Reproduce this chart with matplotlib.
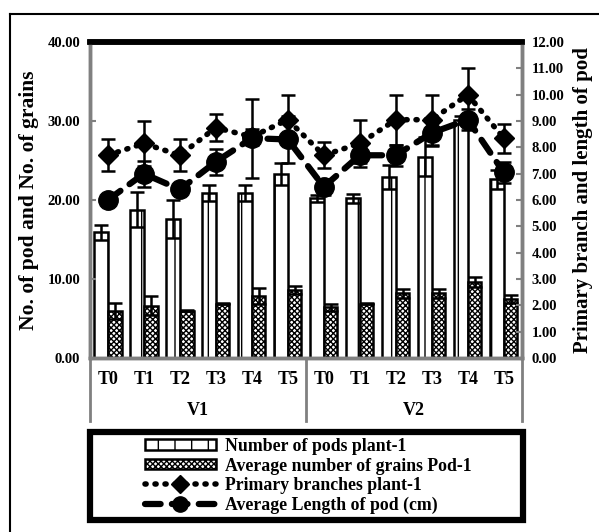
import numpy as np
import matplotlib
matplotlib.use("Agg")
import matplotlib.pyplot as plt
from matplotlib.lines import Line2D
from matplotlib.patches import Rectangle

plt.rcParams["font.family"] = ["Liberation Serif", "DejaVu Serif"]
plt.rcParams["font.weight"] = "bold"
plt.rcParams["hatch.linewidth"] = 1.0

treat = ["T0", "T1", "T2", "T3", "T4", "T5"]
groups = ["V1", "V2"]
cats = treat * 2

pods = [15.9, 18.8, 17.6, 20.9, 20.9, 23.3, 20.2, 20.2, 22.9, 25.5, 30.1, 22.6]
pods_err = [1.0, 2.2, 2.4, 1.0, 1.0, 1.4, 0.4, 0.6, 1.5, 2.5, 0.5, 1.2]
grains = [6.0, 6.6, 6.0, 6.9, 7.9, 8.6, 6.4, 6.9, 8.2, 8.2, 9.6, 7.5]
grains_err = [1.0, 1.2, 0.1, 0.1, 1.0, 0.5, 0.5, 0.1, 0.6, 0.6, 0.6, 0.5]
branches = [7.7, 8.15, 7.7, 8.75, 8.4, 9.05, 7.7, 8.15, 9.05, 9.05, 10.0, 8.35]
branches_err = [0.6, 0.85, 0.6, 0.5, 0.3, 0.95, 0.5, 0.9, 0.95, 0.95, 1.0, 0.55]
length = [6.0, 7.0, 6.4, 7.45, 8.35, 8.3, 6.5, 7.7, 7.7, 8.55, 9.05, 7.05]
length_err = [0.2, 0.5, 0.2, 0.5, 1.5, 0.9, 0.3, 0.3, 0.4, 0.5, 0.4, 0.4]

x = np.arange(len(cats))
w = 0.38

fig = plt.figure(figsize=(5.99, 5.32), dpi=100)
ax = fig.add_axes([0.150, 0.327, 0.721, 0.594])
ax2 = ax.twinx()

ekw = dict(ecolor="black", elinewidth=1.8, capsize=5, capthick=1.8)
b1 = ax.bar(x - w / 2, pods, w, yerr=pods_err, color="white", edgecolor="black",
            linewidth=1.8, hatch="|", error_kw=ekw)
b2 = ax.bar(x + w / 2, grains, w, yerr=grains_err, color="white", edgecolor="black",
            linewidth=1.8, hatch="xxxxxx", error_kw=ekw)

dot_ls = (0, (0.2, 1.6))
dash_ls = (0, (2.5, 1.8))
ax2.errorbar(x, branches, yerr=branches_err, color="black", ls=dot_ls,
             lw=4, dash_capstyle="round", marker="D", ms=10, capsize=5,
             elinewidth=1.8, capthick=1.8)
ax2.errorbar(x, length, yerr=length_err, color="black", ls=dash_ls,
             lw=4.5, dash_capstyle="round", marker="o", ms=14, capsize=5,
             elinewidth=1.8, capthick=1.8)

ax.set_xlim(-0.5, len(cats) - 0.5)
ax.set_ylim(0, 40)
ax2.set_ylim(0, 12)
ax.set_yticks(np.arange(0, 41, 10))
ax.set_yticklabels([f"{v:.2f}" for v in np.arange(0, 41, 10)], fontsize=10.5, fontweight="bold")
ax2.set_yticks(np.arange(0, 13, 1))
ax2.set_yticklabels([f"{v:.2f}" for v in np.arange(0, 13, 1)], fontsize=10.5, fontweight="bold")
ax.set_xticks(x)
ax.set_xticklabels(cats, fontsize=13, fontweight="bold")
ax.tick_params(axis="x", length=0, pad=9)
ax.tick_params(axis="y", length=4, width=1.5, color="gray", direction="in", pad=7)
ax2.tick_params(axis="y", length=4, width=1.5, color="gray", direction="in", pad=7)

for a in (ax, ax2):
    a.spines["top"].set_linewidth(4)
    a.spines["top"].set_color("black")
    for s in ("left", "right", "bottom"):
        a.spines[s].set_linewidth(2.5)
        a.spines[s].set_color("gray")

ax.set_ylabel("No. of pod and No. of grains", fontsize=15.5, fontweight="bold", labelpad=6)
ax2.set_ylabel("Primary branch and length of pod", fontsize=15, fontweight="bold",
               rotation=90, labelpad=6)

# second level of category axis
for k in range(len(groups) + 1):
    xs = -0.5 + k * len(treat)
    ax.plot([xs, xs], [0, -0.2], transform=ax.get_xaxis_transform(), color="gray",
            lw=2, clip_on=False)
for k, g in enumerate(groups):
    xc = k * len(treat) + (len(treat) - 1) / 2
    ax.text(xc, -0.165, g, transform=ax.get_xaxis_transform(), ha="center", va="center",
            fontsize=13, fontweight="bold")

# outer frame (cropped on right/bottom)
fig.add_artist(Line2D([10 / 599, 1], [1 - 14 / 532] * 2, color="black", lw=1.5,
                      transform=fig.transFigure))
fig.add_artist(Line2D([10 / 599] * 2, [0, 1 - 14 / 532], color="black", lw=1.5,
                      transform=fig.transFigure))

# legend box
fig.add_artist(Rectangle((90 / 599, 12 / 532), 433 / 599, 88 / 532, fill=False,
                         edgecolor="black", lw=4.5, transform=fig.transFigure))
handles = [
    b1.patches[0],
    b2.patches[0],
    Line2D([], [], color="black", ls=dot_ls, lw=4, dash_capstyle="round", marker="D", ms=9),
    Line2D([], [], color="black", ls=dash_ls, lw=4.5, dash_capstyle="round", marker="o", ms=11),
]
labels = ["Number of pods plant-1", "Average number of grains Pod-1",
          "Primary branches plant-1", "Average Length of pod (cm)"]
fig.legend(handles, labels, loc="center", bbox_to_anchor=(308 / 599, 56 / 532),
           frameon=False, prop={"weight": "bold", "size": 12.8},
           labelspacing=0.15, handlelength=4.0, handleheight=0.5, handletextpad=0.5,
           borderpad=0.2)

fig.savefig("out.png", dpi=100)
